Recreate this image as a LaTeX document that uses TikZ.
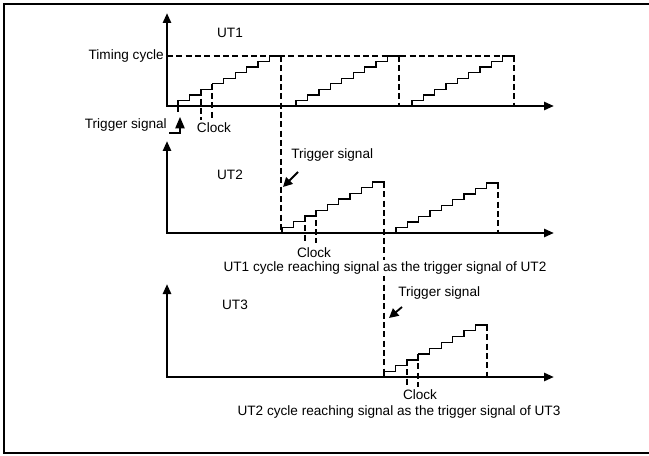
\documentclass[tikz,border=0pt]{standalone}
\usepackage{fontspec}
\setmainfont{Liberation Sans}
\usetikzlibrary{positioning, arrows.meta}

\begin{document}
\begin{tikzpicture}[
  x=0.75pt, y=-0.75pt,
  font=\fontsize{10.2pt}{12pt}\selectfont,
  axis/.style={{Triangle[length=7.5pt,width=6pt]}-{Triangle[length=7.5pt,width=6pt]},
               line width=1.9pt},
  stair/.style={line width=1pt, line cap=rect},
  guide/.style={line width=1.6pt, dash pattern=on 4.5pt off 2.5pt},
  ptr/.style={-{Triangle[length=7pt,width=7pt]}, line width=1.4pt},
  lbl/.style={inner sep=0pt},
  caption/.style={lbl, fill=white, inner sep=1pt},
]

\useasboundingbox (0,0) rectangle (649,456);
\draw[line width=0.8pt] (652,4) -- (4,4) -- (4,453) -- (652,453);

% axes
\foreach \n/\oy/\ty in {1/106/13, 2/233/141, 3/377/284} {
  \coordinate (o\n) at (167,\oy);
  \draw[axis] (167,\ty) -- (o\n) -- (554,\oy);
}

% staircases
\foreach \xa/\xb/\yo/\yt in {178/281/106/56, 296/399/106/56, 412/514/106/56,
                             282/384/233/182, 396/498/233/183, 384/487/377/325} {
  \foreach \k in {0,...,8} {
    \pgfmathsetmacro\sx{\xa+\k*(\xb-\xa)/9}
    \pgfmathsetmacro\ex{\xa+(\k+1)*(\xb-\xa)/9}
    \pgfmathsetmacro\ly{\yo-5.5-\k*(\yo-5.5-\yt)/8}
    \pgfmathsetmacro\py{min(\yo,\ly+(\yo-5.5-\yt)/8)}
    \draw[stair] (\sx,\py) -- (\sx,\ly) -- (\ex,\ly);
  }
}

% clock ticks
\foreach \xa/\xb/\yo/\yt/\yc in {178/281/106/56/120, 282/384/233/182/243,
                                 384/487/377/325/387} {
  \foreach \k in {2,3} {
    \pgfmathsetmacro\sx{\xa+\k*(\xb-\xa)/9}
    \pgfmathsetmacro\ly{\yo-5.5-\k*(\yo-5.5-\yt)/8}
    \draw[guide] (\sx,\ly) -- (\sx,\yc);
  }
}

% timing cycle and cycle ends
\draw[guide] (o1 |- 0,56) -- (514,56);
\draw[guide] (281,56) -- (281,233);
\draw[guide] (399,56) -- (399,106);
\draw[guide] (514,56) -- (514,106);
\draw[guide] (384,182) -- (384,377);
\draw[guide] (498,183) -- (498,233);
\draw[guide] (487,325) -- (487,377);
\draw[guide] (178,106) -- (178,113);

% labels
\node[lbl] (ut1) at (230,33) {UT1};
\node[lbl] (ut2) at (230,175) {UT2};
\node[lbl] (ut3) at (235,305) {UT3};
\node[lbl, anchor=east] (cyc) at (164,56) {Timing cycle};
\node[lbl, anchor=east] (trg1) at (167,125) {Trigger signal};
\node[lbl] (clk1) at (214,128) {Clock};
\node[lbl, anchor=west] (trg2) at (291,155) {Trigger signal};
\node[lbl] (clk2) at (314,253) {Clock};
\node[caption] (cap2) at (385,268) {UT1 cycle reaching signal as the trigger signal of UT2};
\node[lbl, anchor=west] (trg3) at (398,293) {Trigger signal};
\node[lbl] (clk3) at (420,395) {Clock};
\node[caption] (cap3) at (399,412) {UT2 cycle reaching signal as the trigger signal of UT3};

% trigger pointers
\coordinate (t1a) at (169,133);
\coordinate (t1b) at (180,117);
\coordinate (t2a) at (298,172);
\coordinate (t2b) at (283,187);
\coordinate (t3a) at (402,307);
\coordinate (t3b) at (389,318);
\draw[-{Triangle[length=8.5pt,width=7pt]}, line width=1pt] (t1a) -| (t1b);
\draw[ptr] (t2a) -- (t2b);
\draw[ptr] (t3a) -- (t3b);

\end{tikzpicture}
\end{document}
